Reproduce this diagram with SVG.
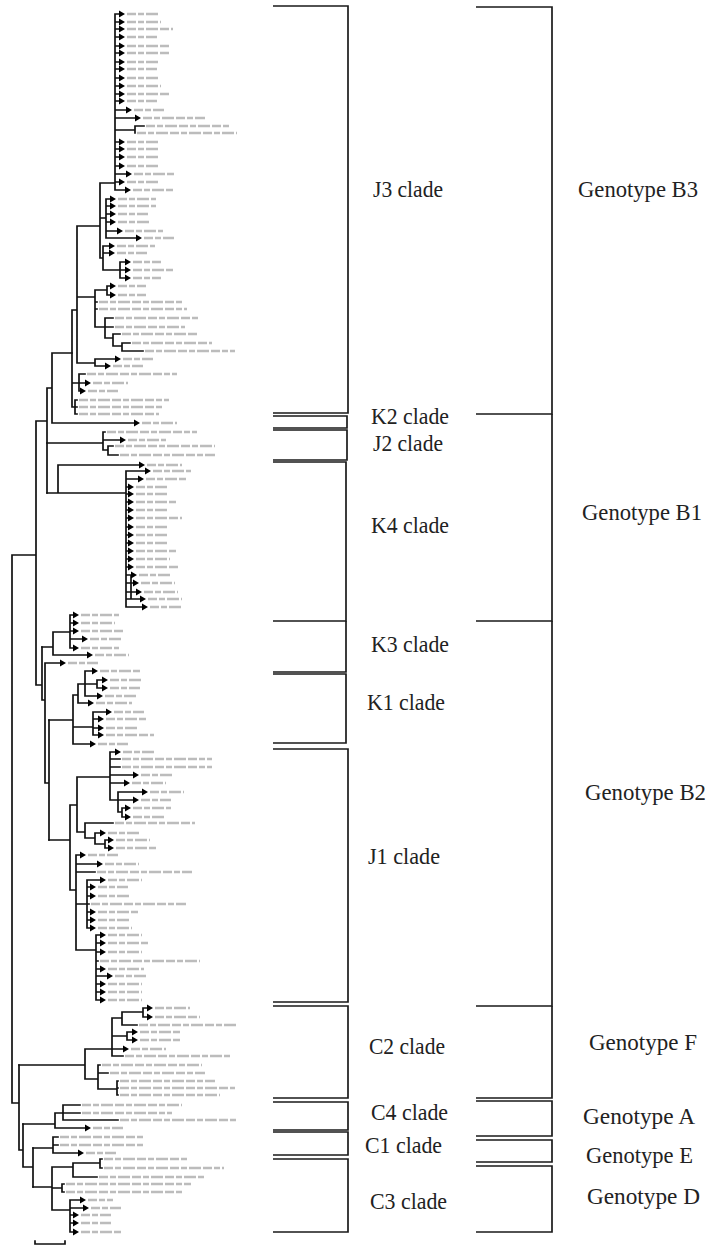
<svg xmlns="http://www.w3.org/2000/svg" width="711" height="1248" viewBox="0 0 711 1248">
<style>
.br{fill:none;stroke:#111;stroke-width:1.7;stroke-linecap:square}
.lb{fill:none;stroke:#bcbcbc;stroke-width:2.6;stroke-dasharray:9 2 6 2 12 2}
.bk{fill:none;stroke:#1a1a1a;stroke-width:1.7}
.tx{font-family:"Liberation Serif","Times New Roman",serif;font-size:24px;fill:#222}
</style>
<defs><path id="t" d="M0 -3.5L6 0L0 3.5Z" fill="#000"/></defs>
<rect width="711" height="1248" fill="#fff"/>

<g id="connectors">
<g id="tree-backbone">
<path class="br" d="M12 555V1103M12 555H36M36 421V685M36 421H47M47 388V493M47 388H52M52 353V423M52 353H72M52 423H134M36 685H42M42 647V700M42 700H45M45 663V783M45 663H60M45 783H49M49 720V840M12 1103H19M19 1065V1150M19 1150H23M23 1124V1167M23 1167H33M33 1148V1187"/>
<path class="lb" d="M142 423h35M68 663h30"/>
<use href="#t" x="134" y="423"/><use href="#t" x="60" y="663"/>
</g>

<g id="tree-J3">
<path class="br" d="M72 310V407M72 310H77M77 226V363M77 226H100M100 183V258M100 183H115M115 14V190
M115 14H119M115 22H119M115 29H119M115 37H119M115 46H119M115 53H119M115 62H119M115 69H119M115 78H119M115 86H119M115 94H119M115 101H119M115 110H126M115 118H135M115 130H135M135 126V133M135 126H144M115 142H119M115 149H119M115 157H119M115 166H119M115 174H126M115 182H119M115 190H125
M100 218H106M106 199V238M106 199H110M106 206H110M106 214H110M106 222H110M106 231H117M106 238H136
M100 258H103M103 246V270M103 246H109M103 253H109M103 270H120M120 262V278M120 262H125M120 270H125M120 278H125
M77 297H95M95 290V327M95 290H107M107 286V295M107 286H110M107 295H110M95 302H97M95 309H97M95 327H105M105 318V338M105 318H113M105 327H113M105 338H113M113 334V346M113 334H120M113 346H122M122 343V351M122 343H130M122 351H143
M77 363H95M95 359V366M95 359H115M95 366H105
M72 383H79M79 374V391M79 374H85M79 383H85M79 391H80
M72 407H75M75 400V414M75 400H77M75 407H77M75 414H77"/>
<path class="lb" d="M127 14h32M127 22h34M127 29h46M127 37h30M127 46h44M127 53h44M127 62h32M127 69h30M127 78h32M127 86h34M127 94h44M127 101h30M134 110h30M143 118h62M146 126h84M137 133h100M127 142h33M127 149h33M127 157h33M127 166h33M134 174h40M127 182h33M133 190h40M118 199h38M118 206h38M118 214h30M118 222h33M125 231h38M144 238h30M117 246h38M117 253h30M133 262h28M133 270h40M133 278h28M118 286h28M118 295h28M99 302h85M99 309h88M115 318h85M115 327h70M122 334h75M132 343h80M145 351h90M123 359h30M113 366h30M87 374h90M93 383h35M88 391h30M79 400h90M79 407h85M79 414h80"/>
<use href="#t" x="119" y="14"/><use href="#t" x="119" y="22"/><use href="#t" x="119" y="29"/><use href="#t" x="119" y="37"/><use href="#t" x="119" y="46"/><use href="#t" x="119" y="53"/><use href="#t" x="119" y="62"/><use href="#t" x="119" y="69"/><use href="#t" x="119" y="78"/><use href="#t" x="119" y="86"/><use href="#t" x="119" y="94"/><use href="#t" x="119" y="101"/><use href="#t" x="126" y="110"/><use href="#t" x="135" y="118"/><use href="#t" x="119" y="142"/><use href="#t" x="119" y="149"/><use href="#t" x="119" y="157"/><use href="#t" x="119" y="166"/><use href="#t" x="126" y="174"/><use href="#t" x="119" y="182"/><use href="#t" x="125" y="190"/><use href="#t" x="110" y="199"/><use href="#t" x="110" y="206"/><use href="#t" x="110" y="214"/><use href="#t" x="110" y="222"/><use href="#t" x="117" y="231"/><use href="#t" x="136" y="238"/><use href="#t" x="109" y="246"/><use href="#t" x="109" y="253"/><use href="#t" x="125" y="262"/><use href="#t" x="125" y="270"/><use href="#t" x="125" y="278"/><use href="#t" x="110" y="286"/><use href="#t" x="110" y="295"/><use href="#t" x="115" y="359"/><use href="#t" x="105" y="366"/><use href="#t" x="85" y="383"/><use href="#t" x="80" y="391"/>
</g>

<g id="tree-J2">
<path class="br" d="M47 443H103M103 432V450M103 432H105M103 440H120M103 450H108M108 446V455M108 446H113M108 455H118"/>
<path class="lb" d="M107 432h90M128 440h38M115 446h100M120 455h95"/>
<use href="#t" x="120" y="440"/>
</g>

<g id="tree-K4">
<path class="br" d="M47 493H126M58 465V493M58 465H139M126 471V607M126 471H145M126 479H138M126 487H128M126 494H128M126 502H128M126 510H128M126 518H128M126 527H128M126 535H128M126 543H128M126 551H128M126 559H128M126 567H128M126 575H131M126 583H133M126 592H136M126 599H140M126 607H142M131 575V599"/>
<path class="lb" d="M147 465h35M153 471h38M146 479h40M136 487h32M136 494h32M136 502h40M136 510h32M136 518h46M136 527h32M136 535h32M136 543h32M136 551h40M136 559h34M136 567h44M139 575h32M141 583h34M144 592h34M148 599h34M150 607h32"/>
<use href="#t" x="139" y="465"/><use href="#t" x="145" y="471"/><use href="#t" x="138" y="479"/><use href="#t" x="128" y="487"/><use href="#t" x="128" y="494"/><use href="#t" x="128" y="502"/><use href="#t" x="128" y="510"/><use href="#t" x="128" y="518"/><use href="#t" x="128" y="527"/><use href="#t" x="128" y="535"/><use href="#t" x="128" y="543"/><use href="#t" x="128" y="551"/><use href="#t" x="128" y="559"/><use href="#t" x="128" y="567"/><use href="#t" x="131" y="575"/><use href="#t" x="133" y="583"/><use href="#t" x="136" y="592"/><use href="#t" x="140" y="599"/><use href="#t" x="142" y="607"/>
</g>

<g id="tree-K3">
<path class="br" d="M42 647H53M53 632V655M53 632H70M70 615V648M70 615H73M70 623H73M70 631H73M70 639H82M70 648H73M53 655H87"/>
<path class="lb" d="M81 615h38M81 623h34M81 631h44M90 639h32M81 648h38M95 655h34"/>
<use href="#t" x="73" y="615"/><use href="#t" x="73" y="623"/><use href="#t" x="73" y="631"/><use href="#t" x="82" y="639"/><use href="#t" x="73" y="648"/><use href="#t" x="87" y="655"/>
</g>

<g id="tree-K1">
<path class="br" d="M49 720H73M73 695V744M73 695H78M78 684V703M78 684H85M85 671V696M85 671H92M85 684H97M97 680V688M97 680H102M97 688H102M85 696H97M78 703H88M73 727H93M93 712V735M93 712H106M93 719H98M93 728H98M93 735H98M73 744H90"/>
<path class="lb" d="M100 671h40M110 680h32M110 688h30M105 696h32M96 703h36M114 712h30M106 719h40M106 728h32M106 735h48M98 744h30"/>
<use href="#t" x="92" y="671"/><use href="#t" x="102" y="680"/><use href="#t" x="102" y="688"/><use href="#t" x="97" y="696"/><use href="#t" x="88" y="703"/><use href="#t" x="106" y="712"/><use href="#t" x="98" y="719"/><use href="#t" x="98" y="728"/><use href="#t" x="98" y="735"/><use href="#t" x="90" y="744"/>
</g>

<g id="tree-J1">
<path class="br" d="M49 840H70M70 805V890M70 805H77M77 777V832M77 777H110M110 752V800M110 752H115M110 759H120M110 767H120M110 775H133M110 783H124M110 800H118M118 792V812M118 792H142M118 800H133M118 812H122M122 808V817M122 808H125M122 817H125M77 832H85M85 823V838M85 823H113M85 838H95M95 833V844M95 833H100M95 844H105M105 840V848M105 840H108M105 848H108M70 890H76M76 855V950M76 855H80M76 864H97M76 872H95M76 904H87M87 880V928M87 880H100M87 887H90M87 896H90M87 904H89M87 912H90M87 920H90M87 928H90M76 950H96M96 935V1000M96 935H100M96 943H100M96 952H100M96 961H98M96 969H100M96 976H107M96 984H100M96 992H100M96 1000H100"/>
<path class="lb" d="M123 752h32M122 759h90M122 767h90M141 775h32M132 783h34M150 792h34M141 800h30M133 808h38M133 817h32M115 823h80M108 833h32M116 840h34M116 848h40M88 855h30M105 864h34M97 872h95M108 880h34M98 887h30M98 896h32M91 904h95M98 912h40M98 920h32M98 928h34M108 935h34M108 943h40M108 952h34M100 961h100M108 969h36M115 976h32M108 984h34M108 992h34M108 1000h34"/>
<use href="#t" x="115" y="752"/><use href="#t" x="133" y="775"/><use href="#t" x="124" y="783"/><use href="#t" x="142" y="792"/><use href="#t" x="133" y="800"/><use href="#t" x="125" y="808"/><use href="#t" x="125" y="817"/><use href="#t" x="100" y="833"/><use href="#t" x="108" y="840"/><use href="#t" x="108" y="848"/><use href="#t" x="80" y="855"/><use href="#t" x="97" y="864"/><use href="#t" x="100" y="880"/><use href="#t" x="90" y="887"/><use href="#t" x="90" y="896"/><use href="#t" x="90" y="912"/><use href="#t" x="90" y="920"/><use href="#t" x="90" y="928"/><use href="#t" x="100" y="935"/><use href="#t" x="100" y="943"/><use href="#t" x="100" y="952"/><use href="#t" x="100" y="969"/><use href="#t" x="107" y="976"/><use href="#t" x="100" y="984"/><use href="#t" x="100" y="992"/><use href="#t" x="100" y="1000"/>
</g>

<g id="tree-C2">
<path class="br" d="M19 1065H85M85 1049V1079M85 1049H112M112 1018V1056M112 1018H122M122 1012V1025M122 1012H143M143 1008V1017M143 1008H147M143 1017H147M122 1025H137M112 1036H127M127 1032V1040M127 1032H132M127 1040H132M112 1049H123M112 1056H123M85 1079H98M98 1065V1089M98 1065H100M98 1073H108M98 1089H117M117 1081V1095M117 1081H118M117 1088H118M117 1095H118"/>
<path class="lb" d="M155 1008h35M155 1017h45M139 1025h98M140 1032h40M140 1040h40M131 1049h35M125 1056h105M102 1065h100M110 1073h95M120 1081h95M120 1088h115M120 1095h100"/>
<use href="#t" x="147" y="1008"/><use href="#t" x="147" y="1017"/><use href="#t" x="132" y="1032"/><use href="#t" x="132" y="1040"/><use href="#t" x="123" y="1049"/>
</g>

<g id="tree-C4-C1-C3">
<path class="br" d="M23 1124H55M55 1113V1128M55 1113H63M63 1105V1120M63 1105H80M63 1113H80M63 1120H118M55 1128H85M33 1148H53M53 1137V1153M53 1137H58M53 1145H58M53 1153H78M33 1187H52M52 1167V1210M52 1167H73M73 1163V1177M73 1163H100M100 1159V1168M100 1159H102M100 1168H102M73 1177H97M52 1188H62M62 1184V1192M62 1184H64M62 1192H64M52 1210H70M70 1200V1232M70 1200H80M70 1208H83M70 1215H73M70 1223H73M70 1232H73"/>
<path class="lb" d="M82 1105h100M82 1113h90M120 1120h118M93 1128h30M60 1137h85M60 1145h85M86 1153h30M104 1159h85M104 1168h120M99 1177h105M66 1184h125M66 1192h118M88 1200h25M91 1208h30M81 1215h30M81 1223h30M81 1232h40"/>
<use href="#t" x="85" y="1128"/><use href="#t" x="78" y="1153"/><use href="#t" x="80" y="1200"/><use href="#t" x="83" y="1208"/><use href="#t" x="73" y="1215"/><use href="#t" x="73" y="1223"/><use href="#t" x="73" y="1232"/>
</g>

<g id="scale-bar">
<path class="br" d="M35 1244H65M35 1241V1244M65 1241V1244"/>
</g>
</g>

<g id="clade-J3"><path class="bk" d="M273 6H348V413H273"/><text class="tx" x="373" y="197" textLength="70" lengthAdjust="spacingAndGlyphs">J3 clade</text></g>
<g id="clade-K2"><path class="bk" d="M273 416H347V428H273"/><text class="tx" x="371" y="424" textLength="78" lengthAdjust="spacingAndGlyphs">K2 clade</text></g>
<g id="clade-J2"><path class="bk" d="M273 430H347V460H273"/><text class="tx" x="373" y="451" textLength="70" lengthAdjust="spacingAndGlyphs">J2 clade</text></g>
<g id="clade-K4"><path class="bk" d="M273 462H346V621H273"/><text class="tx" x="371" y="533" textLength="78" lengthAdjust="spacingAndGlyphs">K4 clade</text></g>
<g id="clade-K3"><path class="bk" d="M346 621V672H273"/><text class="tx" x="371" y="652" textLength="78" lengthAdjust="spacingAndGlyphs">K3 clade</text></g>
<g id="clade-K1"><path class="bk" d="M273 674H346V743H273"/><text class="tx" x="367" y="710" textLength="78" lengthAdjust="spacingAndGlyphs">K1 clade</text></g>
<g id="clade-J1"><path class="bk" d="M273 749H348V1002H273"/><text class="tx" x="368" y="864" textLength="72" lengthAdjust="spacingAndGlyphs">J1 clade</text></g>
<g id="clade-C2"><path class="bk" d="M273 1006H348V1098H273"/><text class="tx" x="369" y="1054" textLength="76" lengthAdjust="spacingAndGlyphs">C2 clade</text></g>
<g id="clade-C4"><path class="bk" d="M273 1102H348V1130H273"/><text class="tx" x="371" y="1120" textLength="77" lengthAdjust="spacingAndGlyphs">C4 clade</text></g>
<g id="clade-C1"><path class="bk" d="M273 1132H348V1155H273"/><text class="tx" x="365" y="1153" textLength="77" lengthAdjust="spacingAndGlyphs">C1 clade</text></g>
<g id="clade-C3"><path class="bk" d="M273 1159H348V1232H273"/><text class="tx" x="370" y="1209" textLength="77" lengthAdjust="spacingAndGlyphs">C3 clade</text></g>

<g id="genotype-B3"><path class="bk" d="M476 7H552V414H476"/><text class="tx" x="578" y="197" textLength="120" lengthAdjust="spacingAndGlyphs">Genotype B3</text></g>
<g id="genotype-B1"><path class="bk" d="M552 414V621H476"/><text class="tx" x="582" y="520" textLength="120" lengthAdjust="spacingAndGlyphs">Genotype B1</text></g>
<g id="genotype-B2"><path class="bk" d="M552 621V1006H476"/><text class="tx" x="585" y="800" textLength="121" lengthAdjust="spacingAndGlyphs">Genotype B2</text></g>
<g id="genotype-F"><path class="bk" d="M552 1006V1098H476"/><text class="tx" x="589" y="1050" textLength="108" lengthAdjust="spacingAndGlyphs">Genotype F</text></g>
<g id="genotype-A"><path class="bk" d="M476 1101H552V1136H476"/><text class="tx" x="583" y="1124" textLength="112" lengthAdjust="spacingAndGlyphs">Genotype A</text></g>
<g id="genotype-E"><path class="bk" d="M476 1140H552V1162H476"/><text class="tx" x="586" y="1163" textLength="107" lengthAdjust="spacingAndGlyphs">Genotype E</text></g>
<g id="genotype-D"><path class="bk" d="M476 1166H552V1232H476"/><text class="tx" x="587" y="1204" textLength="113" lengthAdjust="spacingAndGlyphs">Genotype D</text></g>
</svg>
